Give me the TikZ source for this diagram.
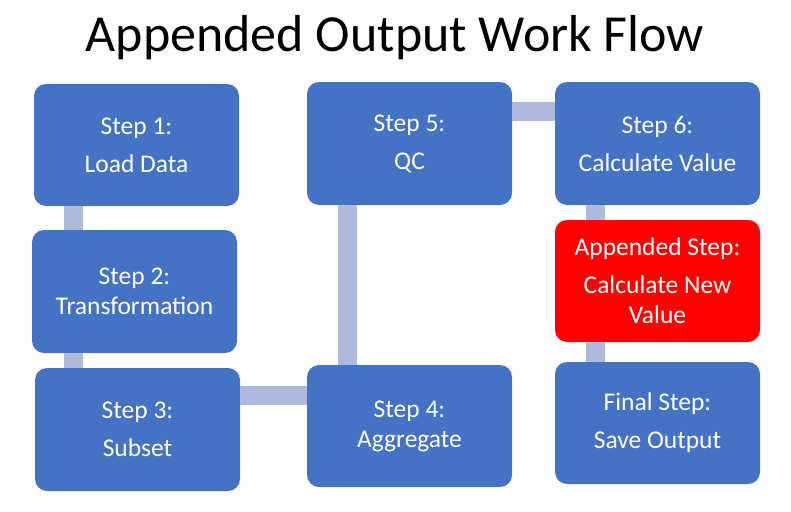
\documentclass[tikz,border=0pt]{standalone}
\usepackage{fontspec}
\setmainfont{Carlito}
\usepackage{tikz}
\usetikzlibrary{positioning}

\definecolor{stepblue}{HTML}{4472C4}
\definecolor{linkblue}{HTML}{AEB9DC}
\definecolor{addred}{HTML}{FF0000}

\begin{document}
\begin{tikzpicture}[
    x=1pt, y=-1pt,
    stepbox/.style={rectangle, fill=stepblue, text=white, rounded corners=12pt, minimum width=205pt, minimum height=122pt, inner sep=0pt, align=center, font=\fontsize{25.5}{30}\selectfont},
    addbox/.style={stepbox, fill=addred},
    link/.style={draw=linkblue, line width=19pt},
    ]
    \useasboundingbox (0,0) rectangle (791,511);

    % Title
    \node[anchor=base, font=\fontsize{52}{60}\selectfont] (title) at (395,52) {Appended Output Work Flow};

    % Nodes
    \node[stepbox] (step1) at (136.5,145) {Step 1:\\[8pt]Load Data};
    \node[stepbox, minimum height=123pt] (step2) at (134.5,291.5) {Step 2:\\Transformation};
    \node[stepbox, minimum height=123pt] (step3) at (137.5,429.5) {Step 3:\\[8pt]Subset};
    \node[stepbox] (step4) at (409.5,426) {Step 4:\\Aggregate};
    \node[stepbox, minimum height=123pt] (step5) at (409.5,143.5) {Step 5:\\[8pt]QC};
    \node[stepbox, minimum height=123pt] (step6) at (657.5,143.5) {Step 6:\\[8pt]Calculate Value};
    \node[addbox] (added) at (657.5,281) {Appended Step:\\[8pt]Calculate New\\Value};
    \node[stepbox] (final) at (657.5,423) {Final Step:\\[8pt]Save Output};

    % Edges
    \draw[link] ([xshift=39.5pt]step1.south west) -- ([xshift=39.5pt]step1.south west |- step2.north);
    \draw[link] ([xshift=41.5pt]step2.south west) -- ([xshift=41.5pt]step2.south west |- step3.north);
    \draw[link] ([yshift=-27.5pt]step3.north east) -- ([yshift=-27.5pt]step3.north east -| step4.west);
    \draw[link] ([xshift=40.5pt]step4.north west) -- ([xshift=40.5pt]step4.north west |- step5.south);
    \draw[link] ([yshift=-29.5pt]step5.north east) -- ([yshift=-29.5pt]step5.north east -| step6.west);
    \draw[link] ([xshift=40.5pt]step6.south west) -- ([xshift=40.5pt]step6.south west |- added.north);
    \draw[link] ([xshift=40.5pt]added.south west) -- ([xshift=40.5pt]added.south west |- final.north);
\end{tikzpicture}
\end{document}
